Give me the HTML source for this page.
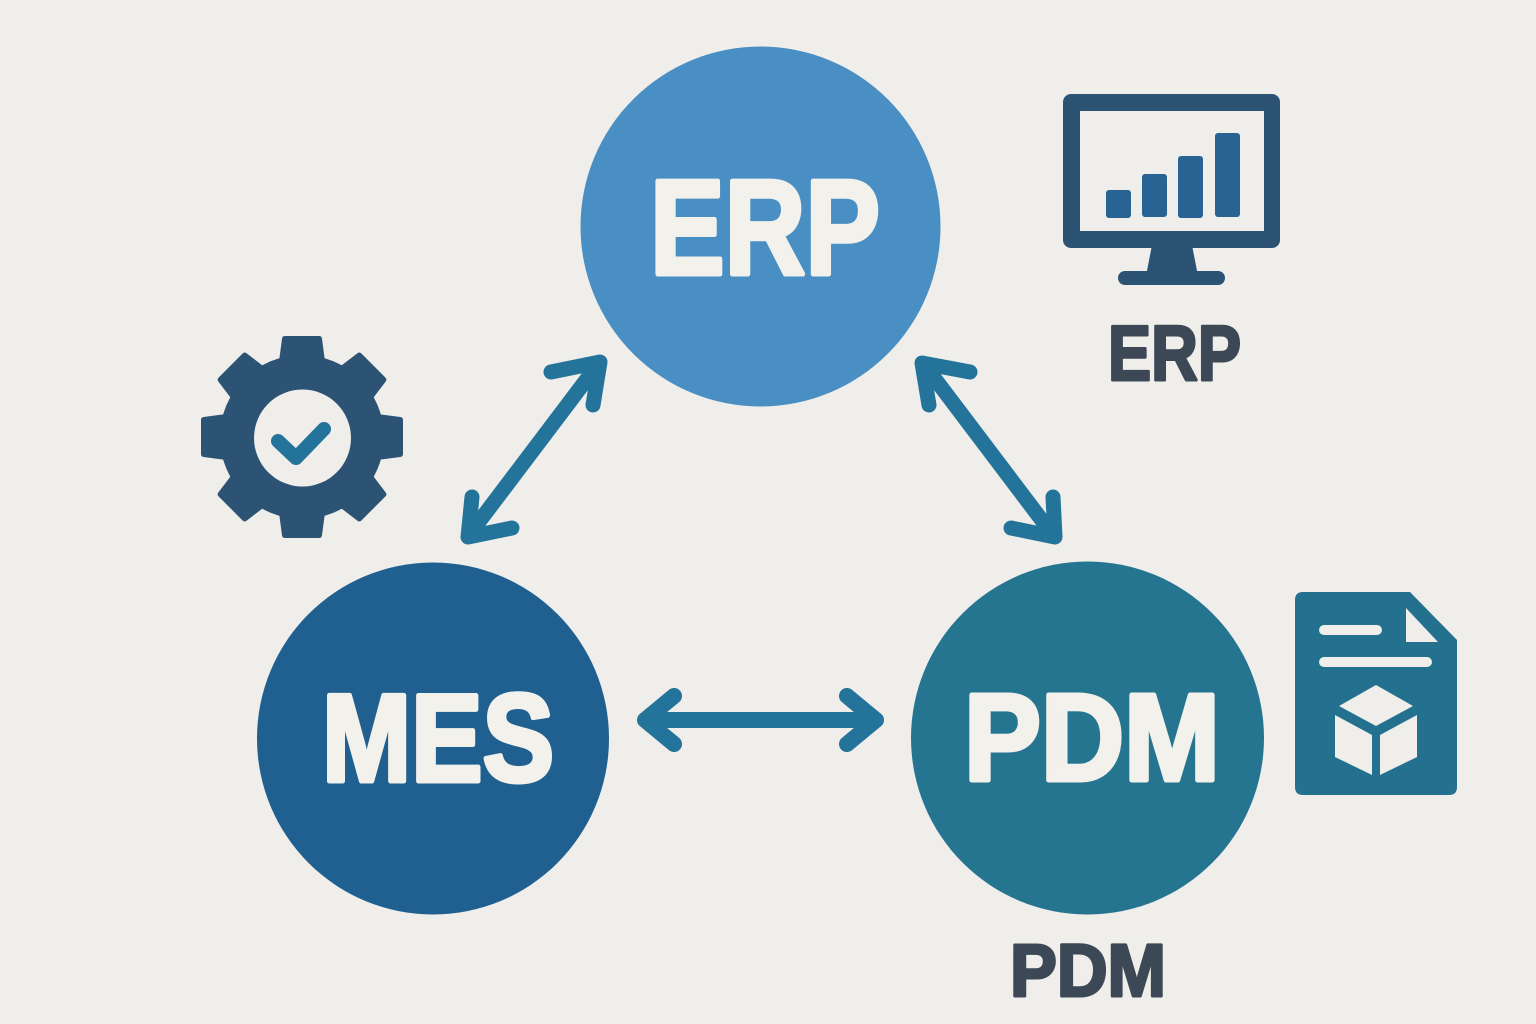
<!DOCTYPE html>
<html>
<head>
<meta charset="utf-8">
<style>
  html, body { margin:0; padding:0; background:#efeeea; }
  body { width:1536px; height:1024px; overflow:hidden; }
  svg { display:block; }
  text { font-family: "Liberation Sans", "DejaVu Sans", sans-serif; font-weight:bold; }
</style>
</head>
<body>
<svg width="1536" height="1024" viewBox="0 0 1536 1024" xmlns="http://www.w3.org/2000/svg">
  <rect width="1536" height="1024" fill="#efeeea"/>

  <!-- Circles -->
  <circle cx="760.5" cy="226.5" r="180" fill="#4a8fc3"/>
  <circle cx="433" cy="738.5" r="176" fill="#1f6090"/>
  <circle cx="1087.5" cy="738" r="176.5" fill="#267590"/>

  <!-- Circle labels -->
  <text x="650" y="274" font-size="135" font-weight="bold" fill="#f3f1ec" stroke="#f3f1ec" stroke-width="5" stroke-linejoin="round" textLength="230" lengthAdjust="spacingAndGlyphs">ERP</text>
  <text x="322" y="781" font-size="124" font-weight="bold" fill="#f3f1ec" stroke="#f3f1ec" stroke-width="5" stroke-linejoin="round" textLength="232" lengthAdjust="spacingAndGlyphs">MES</text>
  <text x="964" y="780" font-size="123" font-weight="bold" fill="#f3f1ec" stroke="#f3f1ec" stroke-width="5" stroke-linejoin="round" textLength="256" lengthAdjust="spacingAndGlyphs">PDM</text>

  <!-- Side labels -->
  <text x="1108" y="380" font-size="78" font-weight="bold" fill="#3d4857" stroke="#3d4857" stroke-width="3" stroke-linejoin="round" textLength="133" lengthAdjust="spacingAndGlyphs">ERP</text>
  <text x="1010" y="996" font-size="74" font-weight="bold" fill="#3d4857" stroke="#3d4857" stroke-width="3" stroke-linejoin="round" textLength="156" lengthAdjust="spacingAndGlyphs">PDM</text>

  <!-- Arrows -->
  <g stroke="#23739a" stroke-width="15" stroke-linecap="round" stroke-linejoin="round" fill="none">
    <!-- left diagonal -->
    <line x1="596" y1="367" x2="472" y2="531"/>
    <polyline points="551,372 600,362 593,405"/>
    <polyline points="472,497 468,537 512,528"/>
    <!-- right diagonal -->
    <line x1="926" y1="367" x2="1050" y2="531"/>
    <polyline points="970,372 922,363 929,405"/>
    <polyline points="1053,497 1055,537 1011,528"/>
  </g>
  <g stroke="#23739a" stroke-linecap="round" stroke-linejoin="round" fill="none">
    <line x1="650" y1="720" x2="872" y2="720" stroke-width="16"/>
    <polyline points="674,696 645,720 674,744" stroke-width="16"/>
    <polyline points="847,696 876,720 847,744" stroke-width="16"/>
  </g>

  <!-- Monitor icon -->
  <g fill="#2c5274">
    <rect x="1063" y="94" width="217" height="154" rx="8"/>
    <polygon points="1152,245 1192,245 1198,276 1146,276"/>
    <rect x="1118" y="271" width="107" height="14" rx="7"/>
  </g>
  <rect x="1080" y="111" width="184" height="120" fill="#efeeea"/>
  <g fill="#276393">
    <rect x="1106" y="190" width="25" height="28" rx="3"/>
    <rect x="1142" y="174" width="25" height="43" rx="3"/>
    <rect x="1178" y="156" width="25" height="62" rx="3"/>
    <rect x="1215" y="133" width="25" height="84" rx="3"/>
  </g>

  <!-- Gear icon -->
  <g fill="#2c5274" transform="translate(302,437)">
    <circle r="82"/>
    <g>
      <path d="M-17,-98 L17,-98 L21,-68 L-21,-68 Z" stroke="#2c5274" stroke-width="6" stroke-linejoin="round" transform="rotate(0)"/>
      <path d="M-17,-98 L17,-98 L21,-68 L-21,-68 Z" stroke="#2c5274" stroke-width="6" stroke-linejoin="round" transform="rotate(45)"/>
      <path d="M-17,-98 L17,-98 L21,-68 L-21,-68 Z" stroke="#2c5274" stroke-width="6" stroke-linejoin="round" transform="rotate(90)"/>
      <path d="M-17,-98 L17,-98 L21,-68 L-21,-68 Z" stroke="#2c5274" stroke-width="6" stroke-linejoin="round" transform="rotate(135)"/>
      <path d="M-17,-98 L17,-98 L21,-68 L-21,-68 Z" stroke="#2c5274" stroke-width="6" stroke-linejoin="round" transform="rotate(180)"/>
      <path d="M-17,-98 L17,-98 L21,-68 L-21,-68 Z" stroke="#2c5274" stroke-width="6" stroke-linejoin="round" transform="rotate(225)"/>
      <path d="M-17,-98 L17,-98 L21,-68 L-21,-68 Z" stroke="#2c5274" stroke-width="6" stroke-linejoin="round" transform="rotate(270)"/>
      <path d="M-17,-98 L17,-98 L21,-68 L-21,-68 Z" stroke="#2c5274" stroke-width="6" stroke-linejoin="round" transform="rotate(315)"/>
    </g>
  </g>
  <circle cx="302.5" cy="438" r="48.5" fill="#efeeea"/>
  <polyline points="278,441 296,458 324,429" fill="none" stroke="#23739a" stroke-width="14" stroke-linecap="round" stroke-linejoin="round"/>

  <!-- Document icon -->
  <path d="M1303,592 L1410,592 L1457,640 L1457,787 Q1457,795 1449,795 L1303,795 Q1295,795 1295,787 L1295,600 Q1295,592 1303,592 Z" fill="#23718e"/>
  <polygon points="1406,608 1406,642 1438,642" fill="#efeeea"/>
  <g stroke="#efeeea" stroke-width="10" stroke-linecap="round">
    <line x1="1324" y1="630" x2="1377" y2="630"/>
    <line x1="1324" y1="662" x2="1427" y2="662"/>
  </g>
  <g fill="#efeeea">
    <polygon points="1376,685 1413,706 1376,726 1339,706"/>
    <polygon points="1335,715 1372,735 1372,775 1335,757"/>
    <polygon points="1380,735 1417,715 1417,757 1380,775"/>
  </g>
</svg>
</body>
</html>
